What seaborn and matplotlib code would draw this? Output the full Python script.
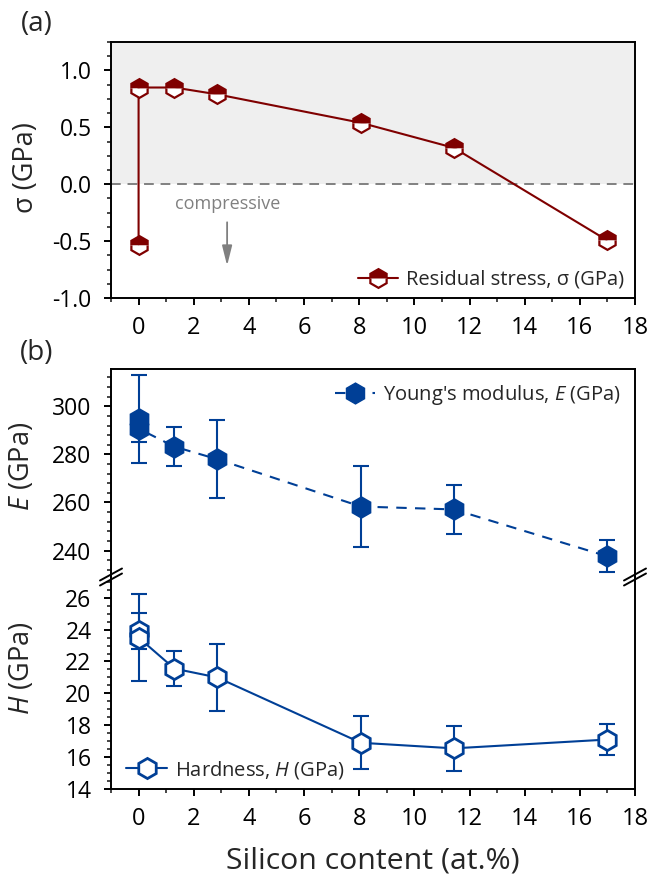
import numpy as np
import pandas as pd
import matplotlib
matplotlib.use("Agg")
import matplotlib.pyplot as plt
from matplotlib.ticker import MultipleLocator
from matplotlib.lines import Line2D
import seaborn as sns

# ---------------- data ----------------
si_stress = [0.0, 0.0, 1.3, 2.85, 8.06, 11.43, 16.97]
stress = [-0.53, 0.85, 0.85, 0.79, 0.54, 0.32, -0.49]

si_mech = [0.0, 0.0, 1.3, 2.85, 8.06, 11.43, 16.97]
young = [294.8, 290.7, 283.2, 278.0, 258.3, 257.1, 237.7]
young_err = [18.4, 5.5, 8.1, 16.3, 16.9, 10.2, 6.6]
hard = [23.9, 23.5, 21.55, 21.0, 16.9, 16.55, 17.1]
hard_err = [1.12, 2.75, 1.08, 2.1, 1.67, 1.43, 0.96]

df_s = pd.DataFrame({"x": si_stress, "y": stress})
df_e = pd.DataFrame({"x": si_mech, "y": young, "err": young_err})
df_h = pd.DataFrame({"x": si_mech, "y": hard, "err": hard_err})

RED = "#7f0000"
BLUE = "#003f96"
FONT = ["Open Sans", "DejaVu Sans"]

sns.set_theme(style="ticks")
plt.rcParams["font.family"] = FONT
plt.rcParams["mathtext.fontset"] = "custom"
plt.rcParams["mathtext.it"] = "Open Sans:italic"
plt.rcParams["mathtext.rm"] = "Open Sans"

W, H = 651, 876
fig = plt.figure(figsize=(W / 100, H / 100), dpi=100)

def frac(left, top, right, bottom):
    return [left / W, 1 - bottom / H, (right - left) / W, (bottom - top) / H]

ax_a = fig.add_axes(frac(111, 42, 635, 298))
ax_e = fig.add_axes(frac(111, 369, 635, 577))
ax_h = fig.add_axes(frac(111, 577, 635, 789))

XT_FS = 17
YT_FS = 16.5
YL_FS = 19.5
for ax in (ax_a, ax_e, ax_h):
    ax.set_facecolor("white")
    for s in ax.spines.values():
        s.set_linewidth(1.4)
        s.set_color("black")
    ax.tick_params(axis="both", which="major", direction="out", length=5, width=1.4,
                   colors="black", right=False, top=False)
    ax.tick_params(axis="x", which="major", labelsize=XT_FS, pad=8)
    ax.tick_params(axis="y", which="major", labelsize=YT_FS, pad=9)
    ax.tick_params(axis="both", which="minor", direction="out", length=3, width=1.2,
                   right=False, top=False)
    ax.set_xlim(-1, 18)
    ax.xaxis.set_major_locator(MultipleLocator(2))
    ax.xaxis.set_minor_locator(MultipleLocator(1))

# ---------------- panel (a) ----------------
ax_a.set_ylim(-1.0, 1.25)
ax_a.axhspan(0, 1.25, color="#efefef", zorder=0, lw=0)
ax_a.axhline(0, color="#808080", lw=1.4, ls=(0, (5, 3.5)), zorder=1)
sns.lineplot(data=df_s, x="x", y="y", ax=ax_a, sort=False, estimator=None,
             color=RED, lw=1.5, marker="h", markersize=13.5, fillstyle="top",
             markerfacecolor=RED, markerfacecoloralt="white", markeredgecolor=RED,
             markeredgewidth=1.6, zorder=3)
ax_a.yaxis.set_major_locator(MultipleLocator(0.5))
ax_a.yaxis.set_minor_locator(MultipleLocator(0.125))
ax_a.yaxis.set_major_formatter(matplotlib.ticker.FormatStrFormatter("%.1f"))
ax_a.set_xlabel("")
ax_a.set_ylabel("σ (GPa)", fontsize=YL_FS)
ax_a.yaxis.set_label_coords(-0.136, 0.51)
ax_a.text(3.24, -0.17, "compressive", color="#808080", fontsize=13, ha="center", va="center")
ax_a.annotate("", xy=(3.21, -0.74), xytext=(3.21, -0.31),
              arrowprops=dict(arrowstyle="-|>,head_width=0.25,head_length=1.0",
                              color="#808080", lw=1.3))
h_a = Line2D([], [], color=RED, lw=1.5, marker="h", markersize=13.5, fillstyle="top",
             markerfacecolor=RED, markerfacecoloralt="white", markeredgecolor=RED,
             markeredgewidth=1.6)
ax_a.legend([h_a], ["Residual stress, σ (GPa)"], loc="lower right", frameon=False,
            fontsize=14.5, handlelength=2.0, handletextpad=0.4, borderaxespad=0.0,
            bbox_to_anchor=(0.995, 0.0))

# ---------------- panel (b) E ----------------
ax_e.errorbar(df_e["x"], df_e["y"], yerr=df_e["err"], fmt="none", ecolor=BLUE,
              elinewidth=1.5, capsize=6, capthick=1.5, zorder=2)
sns.lineplot(data=df_e, x="x", y="y", ax=ax_e, sort=False, estimator=None,
             color=BLUE, lw=1.5, ls=(0, (5, 4)), marker="h", markersize=15,
             markerfacecolor=BLUE, markeredgecolor=BLUE, markeredgewidth=1.2, zorder=3)
ax_e.set_ylim(229, 315.5)
ax_e.yaxis.set_major_locator(MultipleLocator(20))
ax_e.yaxis.set_minor_locator(MultipleLocator(4))
ax_e.spines["bottom"].set_visible(False)
ax_e.tick_params(axis="x", which="both", bottom=False, labelbottom=False)
ax_e.set_xlabel("")
ax_e.set_ylabel("$\\mathit{E}$ (GPa)", fontsize=YL_FS)
ax_e.yaxis.set_label_coords(-0.143, 0.53)
h_e = Line2D([], [], color=BLUE, lw=1.5, ls=(0, (5, 4)), marker="h", markersize=15,
             markerfacecolor=BLUE, markeredgecolor=BLUE)
ax_e.legend([h_e], ["Young's modulus, $\\mathit{E}$ (GPa)"], loc="upper right",
            frameon=False, fontsize=14.5, handlelength=2.0, handletextpad=0.4,
            borderaxespad=0.3)

# ---------------- panel (b) H ----------------
ax_h.errorbar(df_h["x"], df_h["y"], yerr=df_h["err"], fmt="none", ecolor=BLUE,
              elinewidth=1.5, capsize=6, capthick=1.5, zorder=2)
sns.lineplot(data=df_h, x="x", y="y", ax=ax_h, sort=False, estimator=None,
             color=BLUE, lw=1.5, marker="h", markersize=14.5,
             markerfacecolor="white", markeredgecolor=BLUE, markeredgewidth=2.0, zorder=3)
ax_h.set_ylim(14, 27.3)
ax_h.yaxis.set_major_locator(MultipleLocator(2))
ax_h.yaxis.set_minor_locator(MultipleLocator(0.5))
ax_h.spines["top"].set_visible(False)
ax_h.set_xlabel("Silicon content (at.%)", fontsize=21.8, labelpad=11)
ax_h.set_ylabel("$\\mathit{H}$ (GPa)", fontsize=YL_FS)
ax_h.yaxis.set_label_coords(-0.143, 0.57)
h_h = Line2D([], [], color=BLUE, lw=1.5, marker="h", markersize=14.5,
             markerfacecolor="white", markeredgecolor=BLUE, markeredgewidth=2.0)
ax_h.legend([h_h], ["Hardness, $\\mathit{H}$ (GPa)"], loc="lower left",
            frameon=False, fontsize=14.5, handlelength=2.0, handletextpad=0.4,
            borderaxespad=0.0, bbox_to_anchor=(0.014, 0.0))

# break marks
ah = 212.0
aw = 524.0
for xa in (0.0, 1.0):
    for off in (-2.5, 2.5):
        xs = [xa - 11 / aw, xa + 11 / aw]
        ys = [1 + (off - 6) / ah, 1 + (off + 6) / ah]
        ax_h.plot(xs, ys, transform=ax_h.transAxes, color="black", lw=1.4, clip_on=False,
                  zorder=10)

# panel labels
fig.text(37 / W, 1 - 24 / H, "(a)", fontsize=20, ha="center", va="center")
fig.text(37 / W, 1 - 353 / H, "(b)", fontsize=20, ha="center", va="center")

fig.savefig("out.png", dpi=100)
